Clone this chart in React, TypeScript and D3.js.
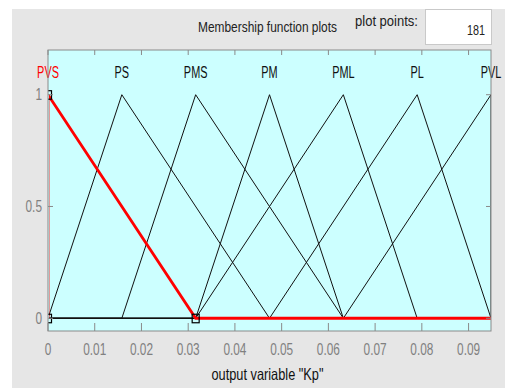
import React from 'react';
import * as d3 from 'd3';

const mfNames = ['PVS', 'PS', 'PMS', 'PM', 'PML', 'PL', 'PVL'];
const mfA = [0, 0, 0.0158, 0.0316, 0.0316, 0.0474, 0.0632];
const mfB = [0, 0.0158, 0.0316, 0.0474, 0.0632, 0.079, 0.0948];
const mfC = [0.0316, 0.0474, 0.0632, 0.0632, 0.079, 0.0948, 0.0948];
const selectedMf = 0;

const xDomain = [0, 0.0948];
const yDomain = [-0.057, 1.2];
const xTicks = [0, 0.01, 0.02, 0.03, 0.04, 0.05, 0.06, 0.07, 0.08, 0.09];
const xTickLabels = ['0', '0.01', '0.02', '0.03', '0.04', '0.05', '0.06', '0.07', '0.08', '0.09'];
const yTicks = [0, 0.5, 1];
const yTickLabels = ['0', '0.5', '1'];

const titleText = 'Membership function plots';
const plotPointsLabel = 'plot points:';
const plotPointsValue = '181';
const xAxisLabel = 'output variable "Kp"';

const FONT = '"Liberation Sans", Arial, sans-serif';

type STProps = {
  x: number;
  y: number;
  sx: number;
  size: number;
  anchor?: string;
  fill?: string;
  children: React.ReactNode;
};

const ST = ({ x, y, sx, size, anchor = 'middle', fill = '#111', children }: STProps) => (
  <text
    transform={`translate(${x},${y}) scale(${sx},1)`}
    textAnchor={anchor}
    fontSize={size}
    fill={fill}
    fontFamily={FONT}
  >
    {children}
  </text>
);

export default function App() {
  const W = 505;
  const H = 388;
  const L = 48;
  const R = 491;
  const T = 50;
  const B = 331;

  const x = d3.scaleLinear().domain(xDomain).range([L, R]);
  const y = d3.scaleLinear().domain(yDomain).range([B, T]);
  const line = d3
    .line<[number, number]>()
    .x((d) => x(d[0]))
    .y((d) => y(d[1]));

  const mfPoints = (i: number): [number, number][] => [
    [xDomain[0], 0],
    [mfA[i], 0],
    [mfB[i], 1],
    [mfC[i], 0],
    [xDomain[1], 0],
  ];

  const axisColor = '#8a8a8a';
  const tickTextColor = '#808080';

  return (
    <svg
      width={W}
      height={H}
      style={{ position: 'absolute', left: 0, top: 0 }}
      xmlns="http://www.w3.org/2000/svg"
    >
      <defs>
        <clipPath id="plotClip">
          <rect x={L + 1} y={T} width={R - L - 1} height={B - T} />
        </clipPath>
        <clipPath id="plotClipFull">
          <rect x={L} y={T} width={R - L} height={B - T} />
        </clipPath>
      </defs>
      <rect x={0} y={0} width={W} height={H} fill="#ffffff" />
      <rect x={12} y={9} width={W - 12} height={H - 9} fill="#e6e6e6" />

      {/* header */}
      <text x={267.5} y={31.5} fontSize={14} fontFamily={FONT} textAnchor="middle" fill="#222"
        textLength={139} lengthAdjust="spacingAndGlyphs">{titleText}</text>
      <text x={386.5} y={26} fontSize={14} fontFamily={FONT} textAnchor="middle" fill="#222"
        textLength={63} lengthAdjust="spacingAndGlyphs">{plotPointsLabel}</text>
      <rect x={425.5} y={9.5} width={66} height={35} fill="#ffffff" stroke="#c9c9c9" strokeWidth={1} />
      <text x={485} y={34.5} fontSize={15} fontFamily={FONT} textAnchor="end" fill="#222"
        textLength={18} lengthAdjust="spacingAndGlyphs">{plotPointsValue}</text>

      {/* plot area */}
      <rect x={L} y={T} width={R - L} height={B - T} fill="#ccffff" />

      <g clipPath="url(#plotClip)">
        {mfNames.map((n, i) =>
          i === selectedMf ? null : (
            <path key={n} d={line(mfPoints(i)) || ''} fill="none" stroke="#111" strokeWidth={1} />
          )
        )}
        <path d={line(mfPoints(selectedMf)) || ''} fill="none" stroke="#ff0000" strokeWidth={2.8} />
      </g>
      <g clipPath="url(#plotClipFull)">
        {[
          [mfA[selectedMf], 0],
          [mfB[selectedMf], 1],
          [mfC[selectedMf], 0],
        ].map((p, k) => (
          <rect key={k} x={x(p[0]) - 3.5} y={y(p[1]) - 4} width={7} height={8.5} fill="none"
            stroke="#000" strokeWidth={1.2} />
        ))}
      </g>

      {/* MF labels */}
      {mfNames.map((n, i) => (
        <ST key={n} x={x(mfB[i])} y={77.5} sx={0.66} size={16.5} fill={i === selectedMf ? '#ff0000' : '#111'}>
          {n}
        </ST>
      ))}

      {/* frame and ticks */}
      <rect x={L} y={T} width={R - L} height={B - T} fill="none" stroke={axisColor} strokeWidth={1} />
      {xTicks.map((t) => (
        <g key={t}>
          <line x1={x(t)} x2={x(t)} y1={B} y2={B - 8} stroke={axisColor} />
          <line x1={x(t)} x2={x(t)} y1={T} y2={T + 5} stroke={axisColor} />
        </g>
      ))}
      {yTicks.map((t) => (
        <g key={t}>
          <line x1={L} x2={L + 5} y1={y(t)} y2={y(t)} stroke={axisColor} />
          <line x1={R} x2={R - 5} y1={y(t)} y2={y(t)} stroke={axisColor} />
        </g>
      ))}

      {xTicks.map((t, i) => (
        <ST key={t} x={x(t)} y={354.5} sx={0.74} size={16} fill={tickTextColor}>
          {xTickLabels[i]}
        </ST>
      ))}
      {yTicks.map((t, i) => (
        <ST key={t} x={42} y={y(t) + 5.5} sx={0.74} size={16} anchor="end" fill={tickTextColor}>
          {yTickLabels[i]}
        </ST>
      ))}

      <text x={267.5} y={380} fontSize={16.5} fontFamily={FONT} textAnchor="middle" fill="#111"
        textLength={112} lengthAdjust="spacingAndGlyphs">{xAxisLabel}</text>
    </svg>
  );
}
